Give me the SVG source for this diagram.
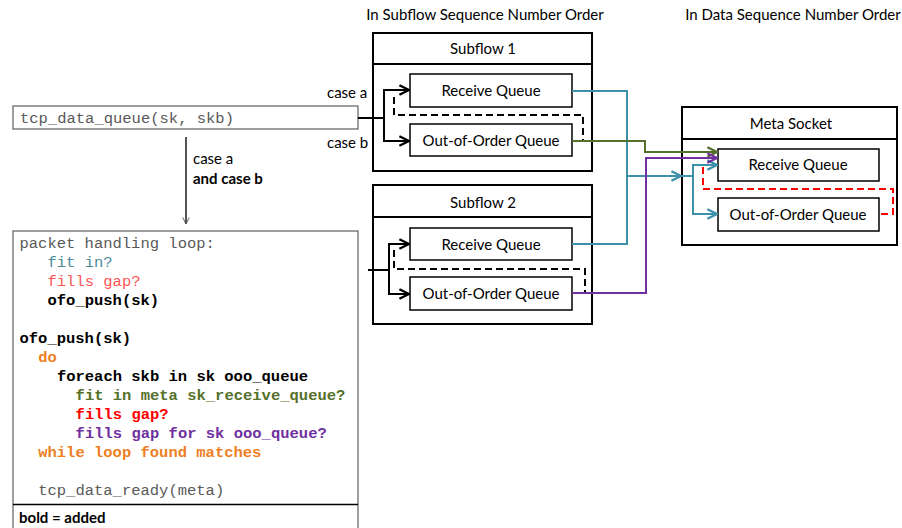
<svg xmlns="http://www.w3.org/2000/svg" width="902" height="528" viewBox="0 0 902 528">
  <style>
    .lbl { font-family: Lato, "Liberation Sans", sans-serif; font-size: 15px; fill: #000; }
    .ctr { text-anchor: middle; }
    .code { font-family: "Liberation Mono", "DejaVu Sans Mono", monospace; font-size: 15.5px; }
    .b { font-weight: bold; }
    .frame { fill: #fff; stroke: #000; stroke-width: 2; }
    .q { fill: #fff; stroke: #000; stroke-width: 1.5; }
    .gbox { fill: #fff; stroke: #6b6b6b; stroke-width: 1.3; }
    .wire { fill: none; stroke-width: 2; stroke-linejoin: miter; }
  </style>
  <defs>
    <marker id="ht" viewBox="0 0 10 10" refX="9" refY="5" markerWidth="12" markerHeight="12" orient="auto" markerUnits="userSpaceOnUse">
      <path d="M1,1 L9,5 L1,9" fill="none" stroke="#3b91a9" stroke-width="2"/>
    </marker>
    <marker id="hg" viewBox="0 0 10 10" refX="9" refY="5" markerWidth="12" markerHeight="12" orient="auto" markerUnits="userSpaceOnUse">
      <path d="M1,1 L9,5 L1,9" fill="none" stroke="#55702b" stroke-width="2"/>
    </marker>
    <marker id="hp" viewBox="0 0 10 10" refX="9" refY="5" markerWidth="12" markerHeight="12" orient="auto" markerUnits="userSpaceOnUse">
      <path d="M1,1 L9,5 L1,9" fill="none" stroke="#7030a0" stroke-width="2"/>
    </marker>
    <marker id="hb" viewBox="0 0 10 10" refX="9" refY="5" markerWidth="12" markerHeight="12" orient="auto" markerUnits="userSpaceOnUse">
      <path d="M1,1 L9,5 L1,9" fill="none" stroke="#000" stroke-width="2"/>
    </marker>
    <marker id="hs" viewBox="0 0 10 10" refX="9" refY="5" markerWidth="8" markerHeight="8" orient="auto" markerUnits="userSpaceOnUse">
      <path d="M1,1 L9,5 L1,9" fill="none" stroke="#555" stroke-width="1.2"/>
    </marker>
  </defs>

  <rect width="902" height="528" fill="#fff"/>

  <!-- column headings -->
  <text class="lbl ctr" x="485" y="20" font-size="13.7">In Subflow Sequence Number Order</text>
  <text class="lbl ctr" x="793" y="20" font-size="13.7">In Data Sequence Number Order</text>

  <!-- entry function -->
  <g id="tcp-data-queue">
    <rect class="gbox" x="13" y="106" width="345" height="23"/>
    <text class="code" x="20" y="123" fill="#595959">tcp_data_queue(sk, skb)</text>
  </g>

  <!-- pseudo code of the handling loop -->
  <g id="handling-loop">
    <rect class="gbox" x="13" y="231" width="345" height="310"/>
    <line x1="13" y1="504.5" x2="358" y2="504.5" stroke="#000" stroke-width="1.3"/>
    <text class="code" x="19.5" y="248" fill="#595959">packet handling loop:</text>
    <text class="code" x="47.5" y="267" fill="#4b8a9b">fit in?</text>
    <text class="code" x="47.5" y="286" fill="#ff5555">fills gap?</text>
    <text class="code b" x="47.5" y="305" fill="#000">ofo_push(sk)</text>
    <text class="code b" x="19.5" y="343" fill="#000">ofo_push(sk)</text>
    <text class="code b" x="38.2" y="362" fill="#ee7f24">do</text>
    <text class="code b" x="56.9" y="381" fill="#000">foreach skb in sk ooo_queue</text>
    <text class="code b" x="75.6" y="400" fill="#55702b">fit in meta sk_receive_queue?</text>
    <text class="code b" x="75.6" y="419" fill="#ff0000">fills gap?</text>
    <text class="code b" x="75.6" y="438" fill="#7030a0">fills gap for sk ooo_queue?</text>
    <text class="code b" x="38.2" y="457" fill="#ee7f24">while loop found matches</text>
    <text class="code" x="38.2" y="495" fill="#595959">tcp_data_ready(meta)</text>
    <text class="lbl b" x="19" y="523" font-size="14.5">bold = added</text>
  </g>

  <!-- subflow 1 -->
  <g id="subflow-1">
    <rect class="frame" x="373" y="33" width="219" height="138"/>
    <line x1="373" y1="64" x2="592" y2="64" stroke="#000" stroke-width="2"/>
    <text class="lbl ctr" x="483" y="54">Subflow 1</text>
    <rect class="q" x="410" y="74" width="162" height="33"/>
    <text class="lbl ctr" x="491" y="96">Receive Queue</text>
    <rect class="q" x="410" y="124" width="162" height="32"/>
    <text class="lbl ctr" x="491" y="146">Out-of-Order Queue</text>
  </g>

  <!-- subflow 2 -->
  <g id="subflow-2">
    <rect class="frame" x="373" y="185" width="219" height="139"/>
    <line x1="373" y1="217" x2="592" y2="217" stroke="#000" stroke-width="2"/>
    <text class="lbl ctr" x="483" y="208">Subflow 2</text>
    <rect class="q" x="410" y="228" width="162" height="32"/>
    <text class="lbl ctr" x="491" y="250">Receive Queue</text>
    <rect class="q" x="410" y="277" width="162" height="33"/>
    <text class="lbl ctr" x="491" y="299">Out-of-Order Queue</text>
  </g>

  <!-- meta socket -->
  <g id="meta-socket">
    <rect class="frame" x="682" y="107" width="215" height="138"/>
    <line x1="682" y1="139" x2="897" y2="139" stroke="#000" stroke-width="2"/>
    <text class="lbl ctr" x="791" y="129">Meta Socket</text>
    <rect class="q" x="718" y="149" width="161" height="32"/>
    <text class="lbl ctr" x="798" y="170">Receive Queue</text>
    <rect class="q" x="718" y="198" width="161" height="33"/>
    <text class="lbl ctr" x="798" y="220">Out-of-Order Queue</text>
  </g>

  <!-- connectors -->
  <g id="connectors">
    <!-- entry into subflow 1 -->
    <path class="wire" stroke="#000" d="M358,118 H384"/>
    <path class="wire" stroke="#000" d="M384,141 V90 H409" marker-end="url(#hb)"/>
    <path class="wire" stroke="#000" d="M384,118 V141 H409" marker-end="url(#hb)"/>
    <!-- entry into subflow 2 -->
    <path class="wire" stroke="#000" d="M368,270 H389"/>
    <path class="wire" stroke="#000" d="M389,294 V244 H409" marker-end="url(#hb)"/>
    <path class="wire" stroke="#000" d="M389,270 V294 H409" marker-end="url(#hb)"/>
    <!-- ofo feedback (dashed) -->
    <path class="wire" stroke="#000" stroke-dasharray="7,4" d="M394,97 V115 H583 V140"/>
    <path class="wire" stroke="#000" stroke-dasharray="7,4" d="M394,250 V269 H585 V293"/>
    <path class="wire" stroke="#ff0000" stroke-dasharray="7,4" d="M703,167 V189 H893 V214 H880"/>

    <!-- subflow receive queues to meta socket -->
    <path class="wire" stroke="#3b91a9" d="M572,91 H627 V244 H572"/>
    <path class="wire" stroke="#3b91a9" d="M627,176 H681" marker-end="url(#ht)"/>
    <path class="wire" stroke="#3b91a9" d="M681,176 H693"/>
    <path class="wire" stroke="#3b91a9" d="M693,176 V165 H717" marker-end="url(#ht)"/>
    <path class="wire" stroke="#3b91a9" d="M693,176 V214 H717" marker-end="url(#ht)"/>
    <!-- subflow 1 ofo queue -->
    <path class="wire" stroke="#55702b" d="M572,141 H645 V152 H717" marker-end="url(#hg)"/>
    <!-- subflow 2 ofo queue -->
    <path class="wire" stroke="#7030a0" d="M572,293 H646 V158 H717" marker-end="url(#hp)"/>

    <!-- entry down to the loop -->
    <path class="wire" stroke="#555" stroke-width="1" d="M186,137 V224" marker-end="url(#hs)"/>
  </g>

  <!-- connector labels -->
  <text class="lbl" x="327" y="98" font-size="14">case a</text>
  <text class="lbl" x="327" y="148" font-size="14">case b</text>
  <text class="lbl" x="193" y="164" font-size="14">case a</text>
  <text class="lbl b" x="193" y="184" font-size="14">and case b</text>
</svg>
